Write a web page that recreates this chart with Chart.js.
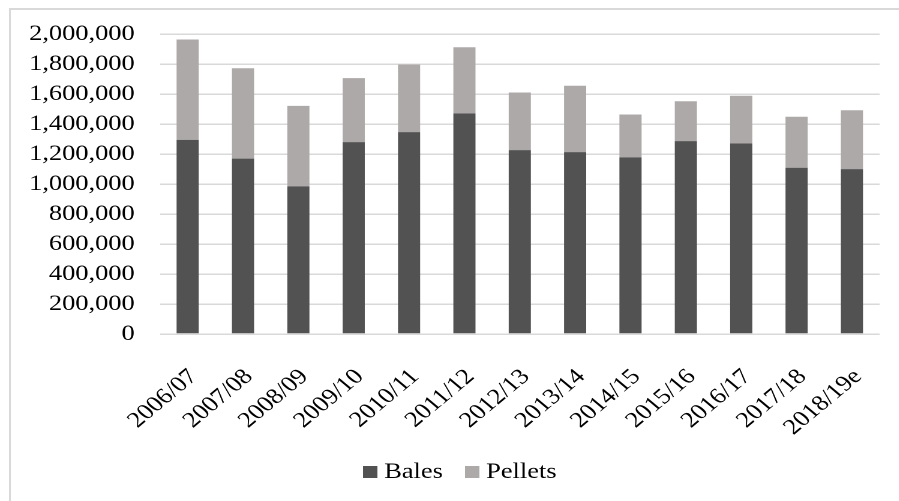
<!DOCTYPE html>
<html>
<head>
<meta charset="utf-8">
<script src="https://cdn.jsdelivr.net/npm/chart.js@4.4.1/dist/chart.umd.min.js"></script>
<style>
  html, body { margin: 0; padding: 0; background: #fff; overflow: hidden; }
  #frame {
    position: absolute; left: 9px; top: 8px; width: 1000px; height: 600px;
    border-left: 2px solid #d9d9d9; border-top: 2px solid #d9d9d9;
  }
  /* the original picture is stretched horizontally, so draw narrow and stretch */
  #wrap {
    position: absolute; left: 0; top: 0; width: 749px; height: 501px;
    transform: scaleX(1.2); transform-origin: 0 0;
  }
</style>
</head>
<body>
<div id="frame"></div>
<div id="wrap"><canvas id="chart"></canvas></div>
<script>
  const seasons = ['2006/07', '2007/08', '2008/09', '2009/10', '2010/11', '2011/12', '2012/13',
                   '2013/14', '2014/15', '2015/16', '2016/17', '2017/18', '2018/19e'];
  const bales = [1295000, 1170000, 985000, 1280000, 1347000, 1471000, 1227000,
                 1213000, 1178000, 1287000, 1271000, 1109000, 1100000];
  const pellets = [670000, 603000, 537000, 427000, 451000, 442000, 384000,
                   443000, 286000, 266000, 318000, 340000, 393000];
  const yMax = 2000000;
  const yStep = 200000;

  const colors = ['#525252', '#ada9a8'];
  const font = { family: "'Liberation Serif', 'Times New Roman', serif", size: 22 };

  // small square used as legend marker (keeps the gap to the text tight)
  function legendSquare(color) {
    const c = document.createElement('canvas');
    c.width = 12;
    c.height = 12;
    const ctx = c.getContext('2d');
    ctx.fillStyle = color;
    ctx.fillRect(0, 0, 12, 12);
    return c;
  }

  new Chart(document.getElementById('chart'), {
    type: 'bar',
    data: {
      labels: seasons,
      datasets: [
        { label: 'Bales', data: bales, backgroundColor: colors[0], barPercentage: 0.4, categoryPercentage: 1 },
        { label: 'Pellets', data: pellets, backgroundColor: colors[1], barPercentage: 0.4, categoryPercentage: 1 }
      ]
    },
    options: {
      responsive: true,
      maintainAspectRatio: false,
      animation: false,
      devicePixelRatio: 2,
      layout: { padding: { left: 23, top: 34, right: 0, bottom: 8 } },
      plugins: {
        legend: {
          position: 'bottom',
          labels: {
            font: font,
            color: '#000',
            usePointStyle: true,
            pointStyleWidth: 1,
            padding: 24,
            generateLabels: chart =>
              Chart.defaults.plugins.legend.labels.generateLabels(chart).map((item, i) =>
                Object.assign(item, { pointStyle: legendSquare(colors[i]) }))
          }
        },
        tooltip: { enabled: false }
      },
      scales: {
        x: {
          stacked: true,
          grid: { display: false, drawTicks: false },
          border: { display: false },
          ticks: { font: font, color: '#000', maxRotation: 45, minRotation: 45, padding: 30, labelOffset: 5 },
          afterFit: function(scale) {
            scale.height = 103;
            scale.paddingLeft = 0;
            scale.paddingRight = 0;
          }
        },
        y: {
          stacked: true,
          min: 0,
          max: yMax,
          grid: { color: '#d9d9d9', lineWidth: 1.5, drawTicks: false },
          border: { display: false },
          ticks: {
            stepSize: yStep,
            font: font,
            color: '#000',
            padding: 21,
            callback: v => v.toLocaleString('en-US')
          },
          afterFit: function(scale) { scale.width = 110.3; }
        },
        // empty strip on the right, keeps the plot edge where the original has it
        yRight: {
          position: 'right',
          grid: { display: false },
          border: { display: false },
          ticks: { display: false },
          afterFit: function(scale) { scale.width = 16; }
        }
      }
    }
  });
</script>
</body>
</html>
